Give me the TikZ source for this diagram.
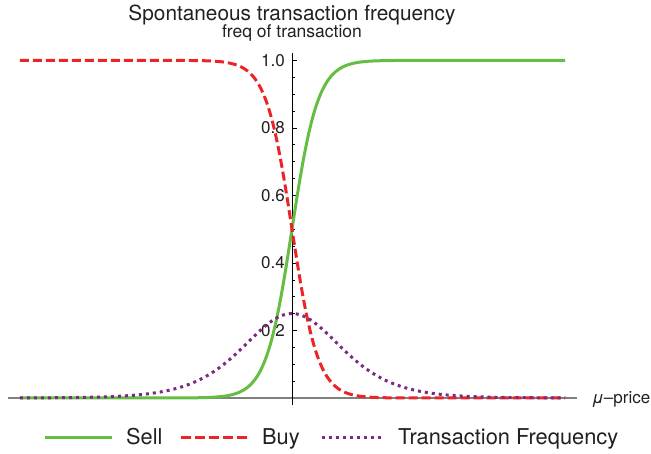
\documentclass[tikz,border=0pt]{standalone}
\usepackage{fontspec}
\setmainfont{TeX Gyre Heros}
\definecolor{sellgreen}{RGB}{101,189,67}
\definecolor{buyred}{RGB}{236,36,40}
\definecolor{freqpurple}{RGB}{122,42,128}
\definecolor{txtgray}{RGB}{35,31,32}
\tikzset{
  sellcurve/.style={sellgreen,line width=3pt},
  buycurve/.style={buyred,line width=3pt,dash pattern=on 9pt off 4pt},
  freqcurve/.style={freqpurple,line width=3pt,dash pattern=on 3pt off 4pt},
  ticklab/.style={anchor=east,text=txtgray,inner sep=0pt,font=\fontsize{17}{17}\selectfont},
  legtext/.style={anchor=base west,text=txtgray,inner sep=0pt,font=\fontsize{21.8}{21.8}\selectfont},
  declare function={sig(\t)=1/(1+exp(min(9,max(-9,-\t))));}
}

\begin{document}
\begin{tikzpicture}[x=1pt,y=1pt]
\useasboundingbox (-292,-55) rectangle (359,398);
% axes
\coordinate (xl) at (-284,0);
\coordinate (xr) at (285,0);
\coordinate (yb) at (0,-7);
\coordinate (yt) at (0,345);
\draw[gray,line width=1.6pt] (xl) -- (xr);
\draw[black,line width=0.8pt] (yb) -- (yt);
\foreach \v in {1,...,20}
  \draw[line width=0.6pt] (0,\v*16.885) -- +(3,0);
\foreach \v/\l in {1/0.2,2/0.4,3/0.6,4/0.8,5/1.0}{
  \draw[line width=0.6pt] (0,\v*67.54) -- +(5,0);
  \node[ticklab] (t\v) at (-7,\v*67.54) {\l};
}
\node[anchor=base west,text=txtgray,inner sep=0pt,font=\fontsize{17}{17}\selectfont] (xlab) at (300,-5) {{\itshape μ}–price};
% titles
\node[anchor=base,text=txtgray,inner sep=0pt,font=\fontsize{20.8}{20.8}\selectfont] (title) at (0,377) {Spontaneous transaction frequency};
\node[anchor=base,text=txtgray,inner sep=0pt,font=\fontsize{17.5}{17.5}\selectfont] (ylab) at (0,360) {freq of transaction};
% curves
\draw[sellcurve] plot[domain=-272:273,samples=300] (\x,{337.7*sig(\x/13)});
\draw[buycurve] plot[domain=-272:273,samples=300] (\x,{337.7*sig(-\x/13)});
\draw[freqcurve] plot[domain=-272:273,samples=300] (\x,{337.7*sig(\x/33)*(1-sig(\x/33))});
% legend
\coordinate (l1a) at (-247,-39);
\coordinate (l1b) at (-180,-39);
\coordinate (l2a) at (-111,-39);
\coordinate (l2b) at (-44,-39);
\coordinate (l3a) at (30,-39);
\coordinate (l3b) at (91,-39);
\draw[sellcurve] (l1a) -- (l1b);
\draw[buycurve,dash pattern=on 10pt off 4pt] (l2a) -- (l2b);
\draw[freqcurve] (l3a) -- (l3b);
\node[legtext] (sell) at (-166,-46) {Sell};
\node[legtext] (buy) at (-30,-46) {Buy};
\node[legtext] (freq) at (106,-46) {Transaction Frequency};
\end{tikzpicture}
\end{document}
